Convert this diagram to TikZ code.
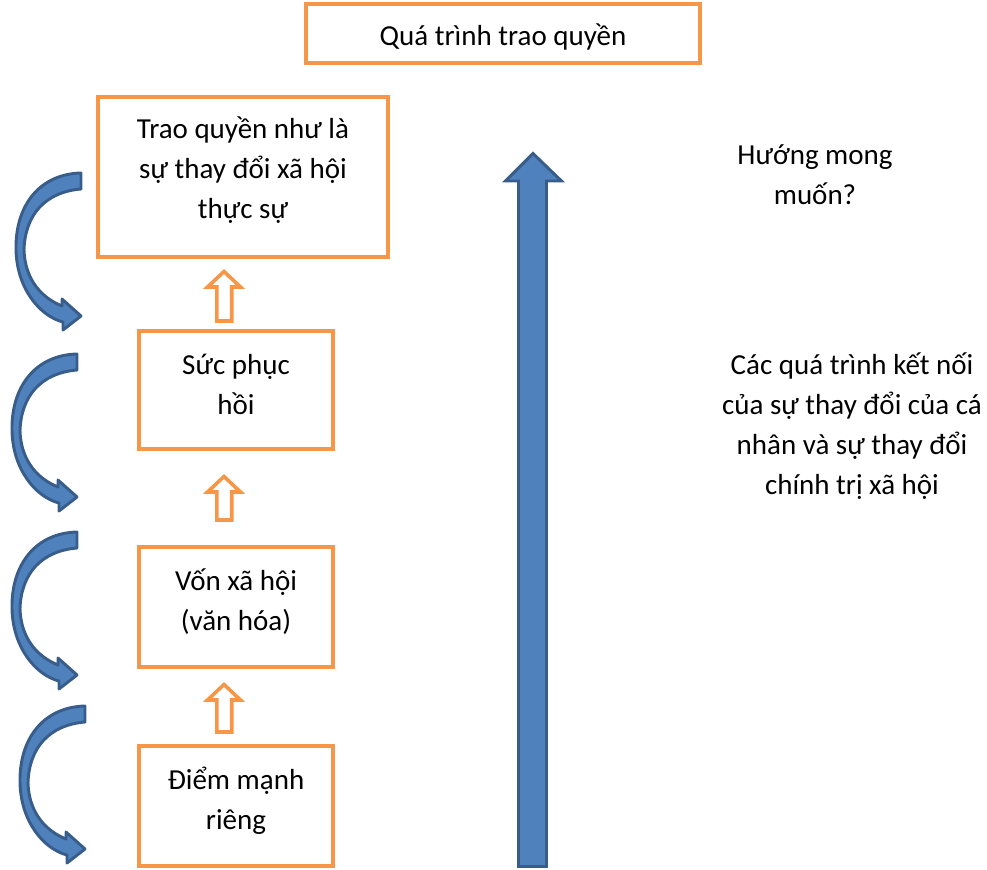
\documentclass[tikz,border=0pt]{standalone}
\usepackage{fontspec}
\setmainfont{Carlito}
\definecolor{boxorange}{HTML}{F79646}
\definecolor{arrowblue}{HTML}{4F81BD}
\definecolor{arrowedge}{HTML}{385D8A}
\tikzset{
  txt/.style={align=center, font=\fontsize{21.75}{30}\selectfont, inner sep=0pt},
  box/.style={draw=boxorange, line width=2.9pt, fill=white, inner sep=0pt},
  hollow/.style={draw=boxorange, line width=2.7pt, fill=white, line join=miter},
  bluearrow/.style={fill=arrowblue, draw=arrowedge, line width=2.2pt, line join=round},
  curvedarrow/.pic={
    \path[bluearrow] (-1,1) .. controls (-42,2) and (-67,33) .. (-66,78)
      .. controls (-65,117) and (-42,144) .. (-19,150) -- (-19,158) -- (-1,144) -- (-20,127) -- (-20,134)
      .. controls (-40,126) and (-57,108) .. (-58,78)
      .. controls (-57,43) and (-37,20) .. (-1,17) -- cycle;
  }
}
\begin{document}
\begin{tikzpicture}[x=0.75pt,y=-0.75pt]
\useasboundingbox (0,0) rectangle (987,869);

% title
\node[box, minimum width=295pt, minimum height=44.5pt] (title) at (503,33.5) {};
\node[txt] (titlet) at (503,37) {Quá trình trao quyền};

% boxes
\node[box, minimum width=217.5pt, minimum height=120pt] (b1) at (243,177) {};
\node[txt] (b1t) at (243,170) {Trao quyền như là\\sự thay đổi xã hội\\thực sự};
\node[box, minimum width=145.5pt, minimum height=88.5pt] (b2) at (236,390) {};
\node[txt] (b2t) at (236,384) {Sức phục\\hồi};
\node[box, minimum width=145.5pt, minimum height=90pt] (b3) at (236,607) {};
\node[txt] (b3t) at (236,602) {Vốn xã hội\\(văn hóa)};
\node[box, minimum width=145.5pt, minimum height=90pt] (b4) at (236,806) {};
\node[txt] (b4t) at (236,801) {Điểm mạnh\\riêng};

% hollow up arrows between boxes
\path[hollow] (216.8,321) -- (216.8,287) -- (207.5,287) -- (224,271.5) -- (240.5,287) -- (231.7,287) -- (231.7,321) -- cycle;
\path[hollow] (216.8,520) -- (216.8,492) -- (207.5,492) -- (224,476.5) -- (240.5,492) -- (231.7,492) -- (231.7,520) -- cycle;
\path[hollow] (216.8,732) -- (216.8,700) -- (207.5,700) -- (224,684.5) -- (240.5,700) -- (231.7,700) -- (231.7,732) -- cycle;

% curved arrows
\pic at (82,172) {curvedarrow};
\pic at (78,353) {curvedarrow};
\pic at (78,531) {curvedarrow};
\pic at (86,705) {curvedarrow};

% big arrow
\path[bluearrow, line join=miter] (518.5,866.5) -- (518.5,181) -- (505.5,181) -- (533,153.5) -- (561.5,181) -- (546.5,181) -- (546.5,866.5) -- cycle;

% right texts
\node[txt] (goal) at (815,175) {Hướng mong\\muốn?};
\node[txt] (proc) at (852,426) {Các quá trình kết nối\\của sự thay đổi của cá\\nhân và sự thay đổi\\chính trị xã hội};
\end{tikzpicture}
\end{document}
